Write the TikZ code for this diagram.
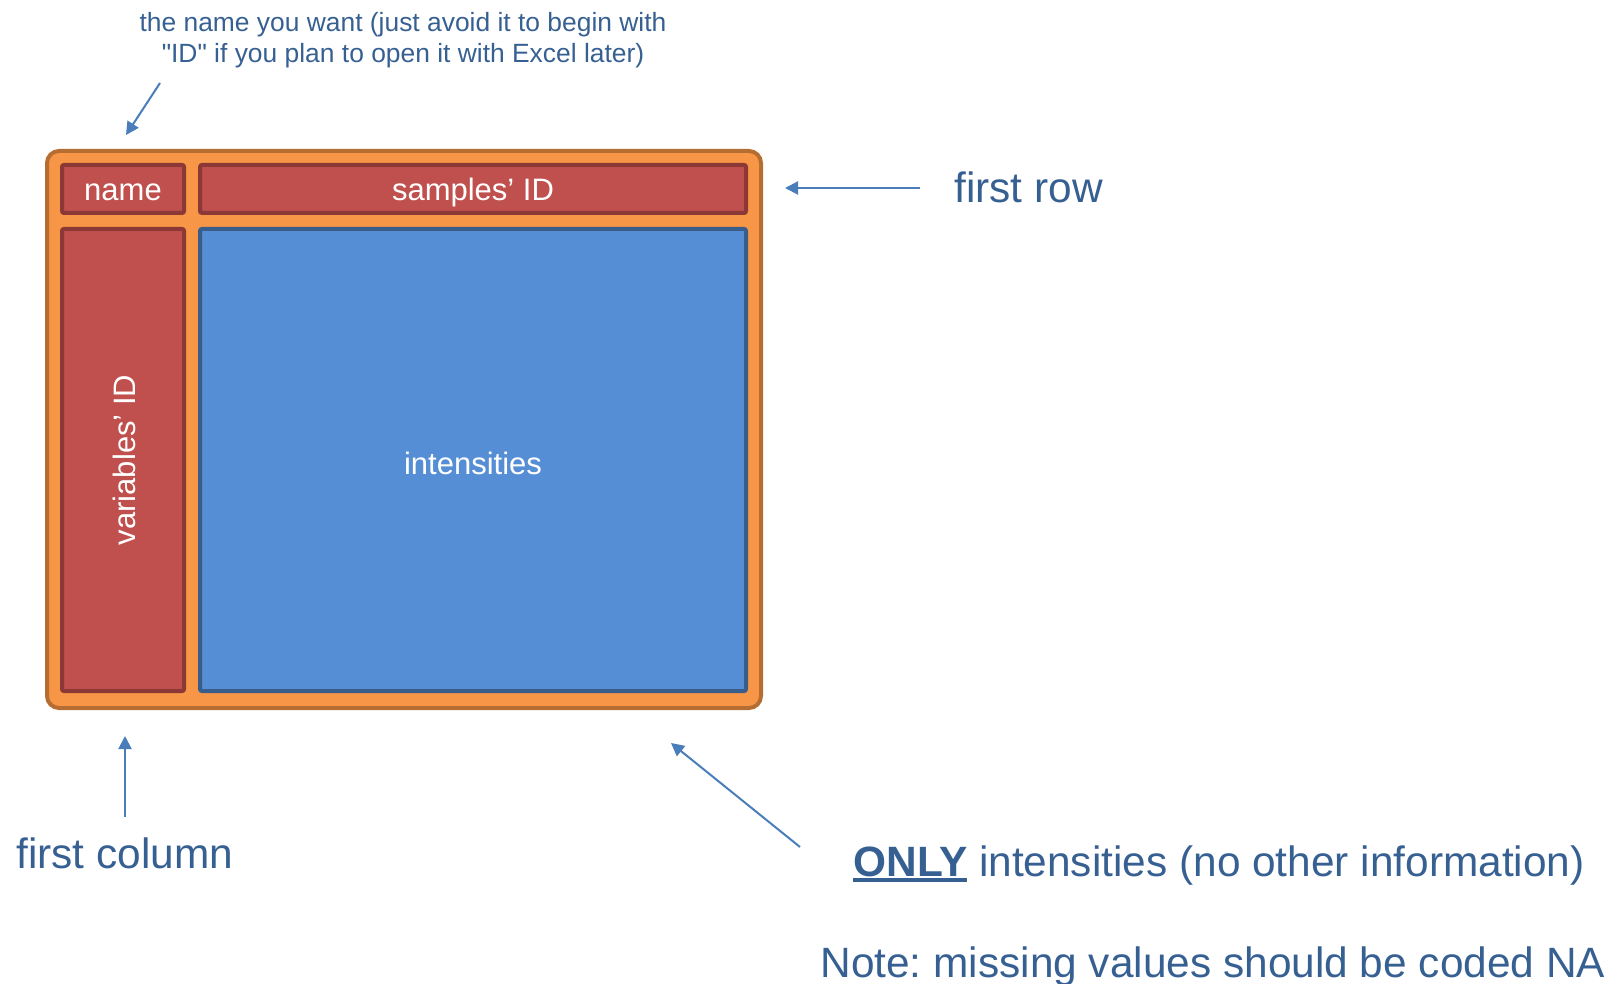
\documentclass[tikz,border=0pt]{standalone}
\usepackage{fontspec}
\setmainfont{Liberation Sans}[Ligatures=TeXOff]
\usetikzlibrary{arrows.meta}
\definecolor{orfill}{HTML}{F79646}
\definecolor{orline}{HTML}{B66D31}
\definecolor{rdfill}{HTML}{C0504D}
\definecolor{rdline}{HTML}{8C3836}
\definecolor{blfill}{HTML}{558ED5}
\definecolor{blline}{HTML}{385D8A}
\definecolor{txtc}{HTML}{376092}
\definecolor{arrc}{HTML}{4A7EBB}
\newcommand\myul[1]{\setbox0\hbox{#1}\rlap{\rule[-3pt]{\wd0}{2pt}}\box0\relax}
\newcommand\lowr[1]{\raisebox{-1.5pt}[\height][\depth]{#1}}
\frenchspacing
\begin{document}
\begin{tikzpicture}[x=0.5pt,y=-0.5pt,
  outerbox/.style={draw=orline,fill=orfill,line width=2pt,rounded corners=6pt,inner sep=0pt},
  redbox/.style={draw=rdline,fill=rdfill,line width=2pt,rounded corners=1pt,inner sep=0pt,text=white,font=\fontsize{15.5}{18}\selectfont},
  bluebox/.style={draw=blline,fill=blfill,line width=2pt,rounded corners=1pt,inner sep=0pt,text=white,font=\fontsize{15.5}{18}\selectfont},
  biglabel/.style={inner sep=0pt,anchor=base west,text=txtc,font=\fontsize{21.2}{25}\selectfont},
  toplabel/.style={inner sep=0pt,anchor=base,text=txtc,font=\fontsize{13.2}{15.5}\selectfont},
  pointer/.style={draw=arrc,line width=1pt,-{Triangle[length=6.5pt,width=6.5pt]}}
]
\useasboundingbox (0,0) rectangle (1612,984);
% table
\node[outerbox,minimum width=357pt,minimum height=278.5pt] (outer) at (404,429.5) {};
\node[redbox,minimum width=61pt,minimum height=24pt] (name) at (123,189) {\lowr{name}};
\node[redbox,minimum width=273pt,minimum height=24pt] (samples) at (473,189) {\lowr{samples’ ID}};
\node[redbox,minimum width=61pt,minimum height=231pt] (vars) at (123,460) {};
\node[text=white,font=\fontsize{15.5}{18}\selectfont,rotate=90,inner sep=0pt] (varstext) at (124,460) {variables’ ID};
\node[bluebox,minimum width=273pt,minimum height=231pt] (inten) at (473,460) {\lowr{intensities}};
% labels
\node[toplabel] (top1) at (403,32) {the name you want (just avoid it to begin with};
\node[toplabel] (top2) at (403,63) {"ID" if you plan to open it with Excel later)};
\node[biglabel] (firstrow) at (954,203) {first row};
\node[biglabel] (firstcol) at (16,868) {first column};
\node[biglabel] (only) at (853,876) {\myul{\bfseries ONLY} intensities (no other information)};
\node[biglabel] (note) at (820,977) {Note: missing values should be coded NA};
% pointer ends
\coordinate (a1s) at (160,83);
\coordinate (a1e) at (126,135);
\coordinate (a2s) at (920,188);
\coordinate (a2e) at (785,188);
\coordinate (a3s) at (125,817);
\coordinate (a3e) at (125,736);
\coordinate (a4s) at (800,847);
\coordinate (a4e) at (671,743);
\draw[pointer] (a1s) -- (a1e);
\draw[pointer] (a2s) -- (a2e);
\draw[pointer] (a3s) -- (a3e);
\draw[pointer] (a4s) -- (a4e);
\end{tikzpicture}
\end{document}
